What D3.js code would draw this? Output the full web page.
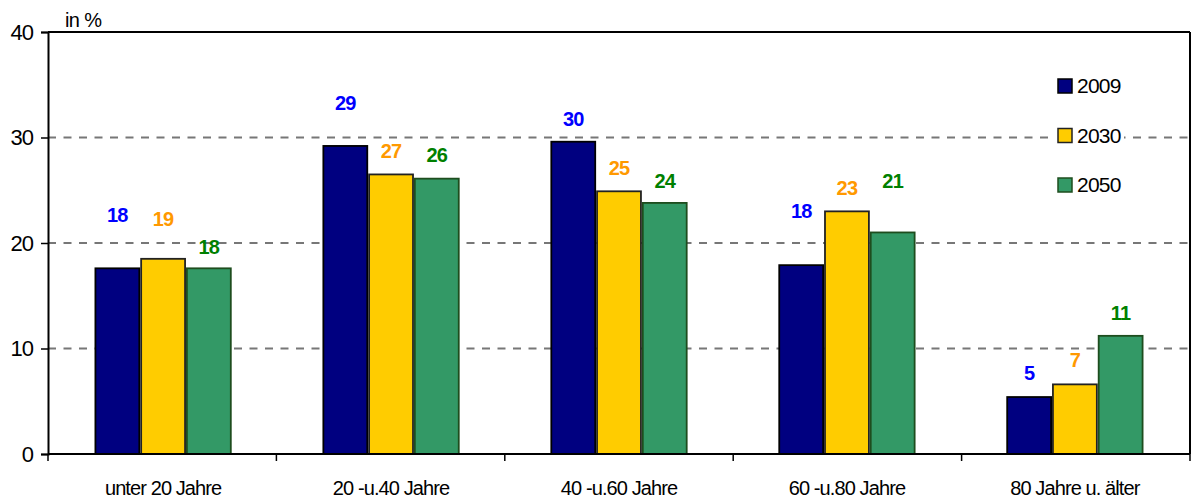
<!DOCTYPE html>
<html>
<head>
<meta charset="utf-8">
<script src="https://cdn.jsdelivr.net/npm/d3@7"></script>
<style>
    body { margin: 0; background: #fff; }
    svg { display: block; font-family: "Liberation Sans Narrow", "Liberation Sans", Arial, sans-serif; }
</style>
</head>
<body>
<svg id="chart" width="1195" height="499"></svg>
<script>
var categories = ['unter 20 Jahre', '20 -u.40 Jahre', '40 -u.60 Jahre', '60 -u.80 Jahre', '80 Jahre u. älter'];
var series = ['2009', '2030', '2050'];
var values2009 = [17.6, 29.2, 29.6, 17.9, 5.4];
var values2030 = [18.5, 26.5, 24.9, 23.0, 6.6];
var values2050 = [17.6, 26.1, 23.8, 21.0, 11.2];
// level (in %) where the data labels sit in the original
var labelLevel2009 = [22.7, 33.3, 31.8, 23.0, 7.7];
var labelLevel2030 = [22.3, 28.7, 27.1, 25.2, 8.9];
var labelLevel2050 = [19.6, 28.3, 25.9, 25.9, 13.4];
var yTicks = [0, 10, 20, 30, 40];

var fills = {'2009': '#000080', '2030': '#ffcc00', '2050': '#339966'};
var strokes = {'2009': '#000000', '2030': '#222222', '2050': '#1e4d1e'};
var labelColors = {'2009': '#0000ff', '2030': '#ff9900', '2050': '#008000'};

var valuesBy = {'2009': values2009, '2030': values2030, '2050': values2050};
var levelsBy = {'2009': labelLevel2009, '2030': labelLevel2030, '2050': labelLevel2050};

var svg = d3.select('#chart');
var plotLeft = 48, plotRight = 1190, plotTop = 32, plotBottom = 454;

var y = d3.scaleLinear().domain([0, 40]).range([plotBottom, plotTop]);
var x0 = d3.scaleBand().domain(categories).range([plotLeft, plotRight])
    .paddingInner(0.39).paddingOuter(0.2);
var x1 = d3.scaleBand().domain(series).range([0, x0.bandwidth()]).padding(0.04);
var step = (plotRight - plotLeft) / categories.length;

// gridlines
svg.append('g')
    .selectAll('line')
    .data(yTicks.filter(d => d > 0 && d < 40))
    .join('line')
    .attr('x1', plotLeft).attr('x2', plotRight)
    .attr('y1', d => y(d)).attr('y2', d => y(d))
    .attr('stroke', '#777')
    .attr('stroke-width', 2)
    .attr('stroke-dasharray', '8,7.5');

// bars
var rows = [];
categories.forEach((c, i) => {
    series.forEach(s => {
        rows.push({cat: c, s: s, v: valuesBy[s][i], lv: levelsBy[s][i]});
    });
});

svg.append('g')
    .selectAll('rect')
    .data(rows)
    .join('rect')
    .attr('x', d => x0(d.cat) + x1(d.s))
    .attr('y', d => y(d.v))
    .attr('width', x1.bandwidth())
    .attr('height', d => y(0) - y(d.v))
    .attr('fill', d => fills[d.s])
    .attr('stroke', d => strokes[d.s])
    .attr('stroke-width', 1.8);

// data labels
svg.append('g')
    .selectAll('text')
    .data(rows)
    .join('text')
    .attr('x', d => x0(d.cat) + x1(d.s) + x1.bandwidth() / 2)
    .attr('y', d => y(d.lv))
    .attr('dy', '0.35em')
    .attr('text-anchor', 'middle')
    .attr('font-size', 20)
    .attr('font-weight', 'bold')
    .attr('letter-spacing', -0.8)
    .attr('fill', d => labelColors[d.s])
    .text(d => Math.round(d.v));

// frame
svg.append('line').attr('x1', plotLeft).attr('x2', plotRight).attr('y1', plotTop).attr('y2', plotTop)
    .attr('stroke', '#000').attr('stroke-width', 2);
svg.append('line').attr('x1', plotRight).attr('x2', plotRight).attr('y1', plotTop).attr('y2', plotBottom)
    .attr('stroke', '#000').attr('stroke-width', 2);

// y axis
var yAxis = d3.axisLeft(y).tickValues(yTicks).tickSize(7).tickPadding(8);
var gY = svg.append('g').attr('transform', 'translate(' + plotLeft + ',0)').call(yAxis);
gY.select('.domain').attr('stroke-width', 2);
gY.selectAll('.tick line').attr('stroke-width', 1.5);
gY.selectAll('.tick text').attr('font-size', 22).attr('font-family', null)
    .attr('letter-spacing', -1).attr('fill', '#000');

// x axis
svg.append('line').attr('x1', plotLeft).attr('x2', plotRight).attr('y1', plotBottom).attr('y2', plotBottom)
    .attr('stroke', '#000').attr('stroke-width', 2);
svg.append('g')
    .selectAll('line')
    .data(d3.range(categories.length + 1))
    .join('line')
    .attr('x1', d => plotLeft + d * step).attr('x2', d => plotLeft + d * step)
    .attr('y1', plotBottom).attr('y2', plotBottom + 7)
    .attr('stroke', '#000').attr('stroke-width', 1.5);
svg.append('g')
    .selectAll('text')
    .data(categories)
    .join('text')
    .attr('x', d => x0(d) + x0.bandwidth() / 2)
    .attr('y', 488)
    .attr('dy', '0.35em')
    .attr('text-anchor', 'middle')
    .attr('font-size', 20)
    .attr('letter-spacing', -0.9)
    .text(d => d);

// unit
svg.append('text').attr('x', 65).attr('y', 20).attr('dy', '0.35em')
    .attr('font-size', 20).attr('letter-spacing', -0.6).text('in %');

// legend
var legend = svg.append('g');
legend.append('rect').attr('x', 1050).attr('y', 66).attr('width', 74).attr('height', 140).attr('fill', '#fff');
var legendY = d3.scalePoint().domain(series).range([86, 185]);
var item = legend.selectAll('g.item').data(series).join('g').attr('class', 'item')
    .attr('transform', d => 'translate(1058,' + legendY(d) + ')');
item.append('rect').attr('x', 0).attr('y', -7).attr('width', 14).attr('height', 14)
    .attr('fill', d => fills[d]).attr('stroke', d => strokes[d]).attr('stroke-width', 1.5);
item.append('text').attr('x', 19).attr('dy', '0.35em').attr('font-size', 21)
    .attr('letter-spacing', -0.8).text(d => d);
</script>
</body>
</html>
